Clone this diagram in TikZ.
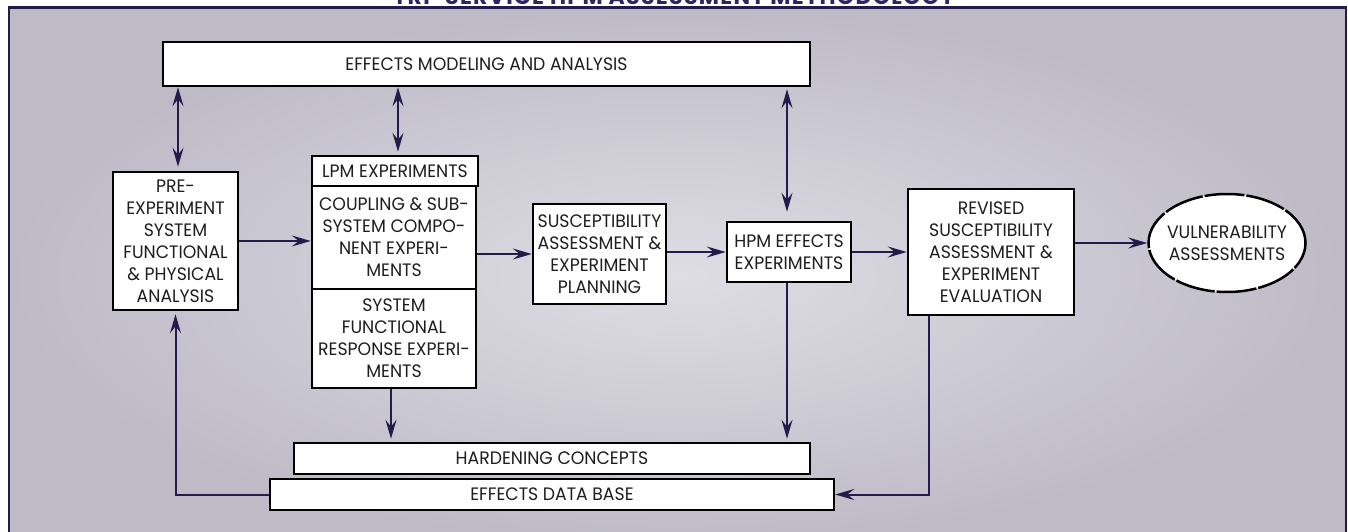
\documentclass[tikz,border=0pt]{standalone}
\usepackage{fontspec}
\setmainfont{Poppins}[FakeStretch=0.96]
\newfontfamily\titlefont{Poppins}[LetterSpace=6]
\usetikzlibrary{arrows.meta,shapes.geometric,calc}
\definecolor{navy}{HTML}{231C4A}
\definecolor{titlecol}{HTML}{2A2862}
\definecolor{bgout}{HTML}{BEBBC7}
\definecolor{bgin}{HTML}{DEDDE4}
\definecolor{txt}{HTML}{1E1E1E}
\newcommand\boxfont{\fontsize{18}{22}\selectfont}
\tikzset{
  box/.style={draw=black, line width=2.5pt, fill=white, inner sep=0pt, align=center, font=\boxfont, text=txt},
  lbl/.style={inner sep=0pt, align=center, font=\boxfont, text=txt},
  con/.style={draw=navy, line width=2pt},
  tip/.tip={Stealth[length=19pt,width=11pt,inset=7pt]},
  arr/.style={con, -tip},
  dbl/.style={con, tip-tip},
}
\begin{document}
\begin{tikzpicture}[x=1pt,y=-1pt]
\useasboundingbox (0,0) rectangle (1348,532);
\clip (0,0) rectangle (1348,532);
% panel
\shade[inner color=bgin, outer color=bgout] (9,7.5) rectangle (1346,545);
\draw[navy, line width=2.2pt] (9,7.5) rectangle (1346,545);
\node[anchor=base, font=\titlefont\fontsize{22}{24}\selectfont\bfseries, text=titlecol] (title) at (674,5) {TRI-SERVICE HPM ASSESSMENT METHODOLOGY};
% boxes
\node[box, minimum width=647pt, minimum height=44pt] (ema) at (486.5,64) {EFFECTS MODELING AND ANALYSIS};
\node[box, minimum width=125pt, minimum height=138pt] (pre) at (175.5,241) {PRE-\\EXPERIMENT\\SYSTEM\\FUNCTIONAL\\\& PHYSICAL\\ANALYSIS};
\node[box, minimum width=166pt, minimum height=30pt] (lpm) at (395,171) {LPM EXPERIMENTS};
\node[box, minimum width=164pt, minimum height=103pt] (coup) at (394,237.5) {COUPLING \& SUB-\\SYSTEM COMPO-\\NENT EXPERI-\\MENTS};
\node[box, minimum width=164pt, minimum height=99pt] (sys) at (394,338.5) {SYSTEM\\FUNCTIONAL\\RESPONSE EXPERI-\\MENTS};
\node[box, minimum width=133pt, minimum height=100pt] (susc) at (599.5,254) {SUSCEPTIBILITY\\ASSESSMENT \&\\EXPERIMENT\\PLANNING};
\node[box, minimum width=124pt, minimum height=60pt] (hpm) at (789,252) {HPM EFFECTS\\EXPERIMENTS};
\node[box, minimum width=166pt, minimum height=126pt] (rev) at (991,252) {REVISED\\SUSCEPTIBILITY\\ASSESSMENT \&\\EXPERIMENT\\EVALUATION};
\node[box, ellipse, minimum width=157pt, minimum height=98pt, dash pattern=on 40pt off 2pt] (vul) at (1227,243) {};
\node[lbl] (vultext) at (vul.center) {VULNERABILITY\\ASSESSMENTS};
\node[box, minimum width=516pt, minimum height=31pt] (hard) at (552,458.5) {HARDENING CONCEPTS};
\node[box, minimum width=564pt, minimum height=31pt] (edb) at (552,494.5) {EFFECTS DATA BASE};
% connectors
\draw[dbl] ([xshift=2.5pt]ema.south -| pre.north) -- ([xshift=2.5pt,yshift=4pt]pre.north);
\draw[dbl] ([xshift=3pt]ema.south -| lpm.north) -- ([xshift=3pt,yshift=3pt]lpm.north);
\draw[dbl] ([xshift=-2pt,yshift=-2pt]ema.south -| hpm.north) -- ([xshift=-2pt,yshift=9pt]hpm.north);
\draw[arr] (pre.east) -- (pre.east -| coup.west);
\draw[arr] (coup.east |- susc.west) -- (susc.west);
\draw[arr] (susc.east |- hpm.west) -- (hpm.west);
\draw[arr] (hpm.east) -- (hpm.east -| rev.west);
\draw[arr] (rev.east |- vul.west) -- (vul.west);
\draw[arr, shorten >=3pt] ([xshift=-3pt]sys.south) -- ([xshift=-3pt]sys.south |- hard.north);
\draw[arr, shorten >=3pt] ([xshift=-2pt]hpm.south) -- ([xshift=-2pt]hpm.south |- hard.north);
\draw[arr] ([xshift=-62pt]rev.south) |- (edb.east);
\draw[arr, shorten >=3pt] (edb.west) -| (pre.south);
\end{tikzpicture}
\end{document}
